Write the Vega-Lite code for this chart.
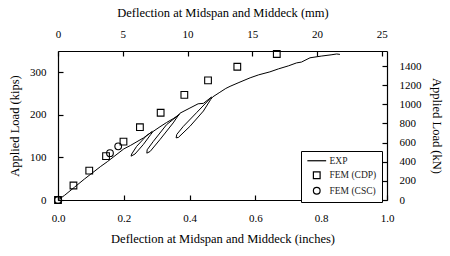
{
  "$schema": "https://vega.github.io/schema/vega-lite/v6.json",
  "autosize": {"type": "none"},
  "width": 329,
  "height": 149,
  "padding": {"left": 58, "top": 51, "right": 63, "bottom": 56},
  "background": "white",
  "config": {
    "font": "Liberation Serif",
    "view": {"stroke": null},
    "axis": {
      "grid": false,
      "domainColor": "black",
      "domainWidth": 1.2,
      "tickColor": "black",
      "tickWidth": 1.2,
      "tickSize": -5,
      "labelColor": "black",
      "titleColor": "black",
      "labelFont": "Liberation Serif",
      "titleFont": "Liberation Serif",
      "labelFontSize": 11,
      "titleFontSize": 12.5,
      "titleFontWeight": "normal",
      "labelPadding": 17,
      "labelFlush": false
    }
  },
  "layer": [
    {
      "layer": [
        {
          "data": {"values": [
            {"i": 1, "x": 0.0, "y": 0},
            {"i": 2, "x": 0.02, "y": 11},
            {"i": 3, "x": 0.05, "y": 30},
            {"i": 4, "x": 0.08, "y": 49},
            {"i": 5, "x": 0.1, "y": 61},
            {"i": 6, "x": 0.13, "y": 79},
            {"i": 7, "x": 0.15, "y": 90},
            {"i": 8, "x": 0.17, "y": 102},
            {"i": 9, "x": 0.2, "y": 120},
            {"i": 10, "x": 0.22, "y": 128},
            {"i": 11, "x": 0.24, "y": 137},
            {"i": 12, "x": 0.26, "y": 146},
            {"i": 13, "x": 0.287, "y": 161},
            {"i": 14, "x": 0.269, "y": 151},
            {"i": 15, "x": 0.239, "y": 126},
            {"i": 16, "x": 0.224, "y": 108},
            {"i": 17, "x": 0.222, "y": 103},
            {"i": 18, "x": 0.234, "y": 108},
            {"i": 19, "x": 0.259, "y": 130},
            {"i": 20, "x": 0.282, "y": 154},
            {"i": 21, "x": 0.289, "y": 161},
            {"i": 22, "x": 0.31, "y": 172},
            {"i": 23, "x": 0.33, "y": 182},
            {"i": 24, "x": 0.35, "y": 191},
            {"i": 25, "x": 0.369, "y": 201},
            {"i": 26, "x": 0.33, "y": 177},
            {"i": 27, "x": 0.29, "y": 138},
            {"i": 28, "x": 0.271, "y": 118},
            {"i": 29, "x": 0.27, "y": 110},
            {"i": 30, "x": 0.28, "y": 114},
            {"i": 31, "x": 0.31, "y": 142},
            {"i": 32, "x": 0.35, "y": 181},
            {"i": 33, "x": 0.365, "y": 198},
            {"i": 34, "x": 0.371, "y": 204},
            {"i": 35, "x": 0.401, "y": 216},
            {"i": 36, "x": 0.426, "y": 226},
            {"i": 37, "x": 0.442, "y": 227},
            {"i": 38, "x": 0.467, "y": 242},
            {"i": 39, "x": 0.421, "y": 205},
            {"i": 40, "x": 0.381, "y": 173},
            {"i": 41, "x": 0.361, "y": 154},
            {"i": 42, "x": 0.359, "y": 146},
            {"i": 43, "x": 0.366, "y": 147},
            {"i": 44, "x": 0.401, "y": 173},
            {"i": 45, "x": 0.442, "y": 209},
            {"i": 46, "x": 0.464, "y": 236},
            {"i": 47, "x": 0.47, "y": 242},
            {"i": 48, "x": 0.492, "y": 253},
            {"i": 49, "x": 0.51, "y": 262},
            {"i": 50, "x": 0.523, "y": 267},
            {"i": 51, "x": 0.55, "y": 276},
            {"i": 52, "x": 0.584, "y": 287},
            {"i": 53, "x": 0.61, "y": 294},
            {"i": 54, "x": 0.644, "y": 301},
            {"i": 55, "x": 0.67, "y": 308},
            {"i": 56, "x": 0.7, "y": 315},
            {"i": 57, "x": 0.725, "y": 322},
            {"i": 58, "x": 0.74, "y": 324},
            {"i": 59, "x": 0.766, "y": 334},
            {"i": 60, "x": 0.8, "y": 338},
            {"i": 61, "x": 0.83, "y": 341},
            {"i": 62, "x": 0.847, "y": 343},
            {"i": 63, "x": 0.857, "y": 342}
          ]},
          "mark": {"type": "line", "color": "black", "strokeWidth": 1},
          "encoding": {
            "x": {"field": "x", "type": "quantitative", "scale": {"domain": [0, 1], "nice": false},
              "axis": {"orient": "bottom", "values": [0, 0.2, 0.4, 0.6, 0.8, 1.0], "format": ".1f", "title": "Deflection at Midspan and Middeck (inches)", "titlePadding": 9}},
            "y": {"field": "y", "type": "quantitative", "scale": {"domain": [0, 350], "nice": false},
              "axis": {"orient": "left", "values": [0, 50, 100, 150, 200, 250, 300, 350], "format": "d", "title": "Applied Load (kips)", "titlePadding": 8}},
            "order": {"field": "i", "type": "quantitative"}
          }
        },
        {
          "data": {"values": [
            {"series": "FEM (CDP)", "x": 0.0, "y": 0},
            {"series": "FEM (CDP)", "x": 0.047, "y": 34},
            {"series": "FEM (CDP)", "x": 0.095, "y": 69},
            {"series": "FEM (CDP)", "x": 0.146, "y": 103},
            {"series": "FEM (CDP)", "x": 0.199, "y": 137},
            {"series": "FEM (CDP)", "x": 0.249, "y": 171},
            {"series": "FEM (CDP)", "x": 0.312, "y": 205},
            {"series": "FEM (CDP)", "x": 0.384, "y": 247},
            {"series": "FEM (CDP)", "x": 0.456, "y": 281},
            {"series": "FEM (CDP)", "x": 0.545, "y": 313},
            {"series": "FEM (CDP)", "x": 0.665, "y": 343},
            {"series": "FEM (CSC)", "x": 0.0, "y": 0},
            {"series": "FEM (CSC)", "x": 0.158, "y": 110},
            {"series": "FEM (CSC)", "x": 0.183, "y": 126}
          ]},
          "mark": {"type": "point", "filled": false, "stroke": "black", "strokeWidth": 1.1, "opacity": 1, "size": 45, "clip": false},
          "encoding": {
            "x": {"field": "x", "type": "quantitative"},
            "y": {"field": "y", "type": "quantitative"},
            "shape": {"field": "series", "type": "nominal",
              "scale": {"domain": ["EXP", "FEM (CDP)", "FEM (CSC)"], "range": ["M-2.8,0H2.8", "square", "circle"]},
              "legend": {"title": null, "orient": "none", "legendX": 243, "legendY": 100,
                "strokeColor": "black", "fillColor": "white", "padding": 5,
                "labelFont": "Liberation Serif", "labelFontSize": 9.5, "labelColor": "#222",
                "symbolStrokeColor": "black", "symbolFillColor": "transparent", "symbolStrokeWidth": 1.2,
                "symbolSize": 45, "rowPadding": 2.5, "labelOffset": 8, "symbolOffset": 6}}
          }
        }
      ]
    },
    {
      "data": {"values": [{"mm": 0, "kN": 0}, {"mm": 25.4, "kN": 1556.9}]},
      "mark": {"type": "point", "opacity": 0},
      "encoding": {
        "x": {"field": "mm", "type": "quantitative", "scale": {"domain": [0, 25.4], "nice": false},
          "axis": {"orient": "top", "values": [0, 5, 10, 15, 20, 25], "format": "d", "title": "Deflection at Midspan and Middeck (mm)", "titlePadding": 9}},
        "y": {"field": "kN", "type": "quantitative", "scale": {"domain": [0, 1556.9], "nice": false},
          "axis": {"orient": "right", "values": [0, 200, 400, 600, 800, 1000, 1200, 1400], "format": "d", "title": "Applied Load (kN)", "titlePadding": 8}}
      }
    }
  ],
  "resolve": {"scale": {"x": "independent", "y": "independent"}}
}
